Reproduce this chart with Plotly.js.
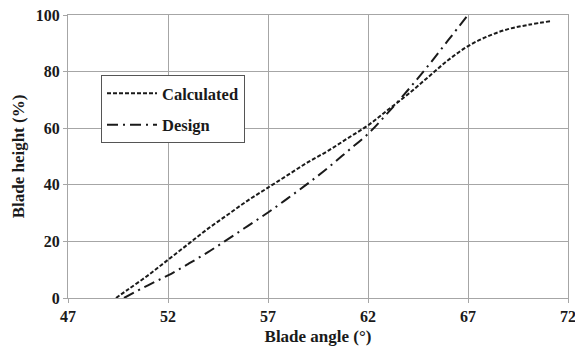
<!DOCTYPE html>
<html>
<head>
<meta charset="utf-8">
<script src="https://cdn.plot.ly/plotly-3.0.1.min.js"></script>
<style>html,body{margin:0;padding:0;background:#fff;}#chart{width:575px;height:351px;}</style>
</head>
<body>
<div id="chart"></div>
<script>
const calcAngle = [49.4, 50, 51, 52, 53, 54, 55, 56, 57, 58, 59, 60, 61, 62, 63, 64, 65, 66, 67, 68, 69, 70, 71.1];
const calcHeight = [0, 3, 8, 13.5, 19, 24.5, 29.5, 34.5, 39, 43.5, 48, 52, 56.5, 61, 66.5, 72, 78, 84, 89, 92.5, 95, 96.5, 97.8];
const designAngle = [49.8, 51, 52, 53, 54, 55, 56, 57, 58, 59, 60, 61, 62, 63, 64, 65, 66, 67];
const designHeight = [0, 4.5, 8, 12, 16.2, 20.8, 25.5, 30.2, 35.3, 40.5, 46, 52, 58, 65.5, 73.5, 82, 91, 100];
const xTicks = [47, 52, 57, 62, 67, 72];
const yTicks = [0, 20, 40, 60, 80, 100];

const font = 'Liberation Serif, Times New Roman, serif';
const traces = [
  {x: calcAngle, y: calcHeight, name: 'Calculated', legendgroup: 'a', mode: 'lines', line: {color: '#1a1a1a', width: 2, dash: '4px,2px', shape: 'spline'}},
  {x: designAngle, y: designHeight, name: 'Design', legendgroup: 'b', mode: 'lines', line: {color: '#1a1a1a', width: 2, dash: '11px,5px,2px,5px', shape: 'spline'}}
];
const layout = {
  width: 575, height: 351,
  margin: {l: 68, r: 7, t: 15, b: 53},
  paper_bgcolor: '#fff', plot_bgcolor: '#fff',
  font: {family: font, color: '#1a1a1a', size: 16, weight: 'bold'},
  showlegend: true,
  legend: {x: 0.066, y: 0.788, xanchor: 'left', yanchor: 'top', bgcolor: '#fff', bordercolor: '#555', borderwidth: 1,
           font: {family: font, size: 16.5, color: '#1a1a1a', weight: 'bold'}, traceorder: 'grouped', tracegroupgap: 7,
           itemwidth: 50},
  xaxis: {range: [47, 72], tickvals: xTicks, ticktext: xTicks.map(String), showgrid: true, gridcolor: '#a6a6a6', gridwidth: 1,
          zeroline: false, showline: true, linecolor: '#a6a6a6', mirror: true, ticks: 'outside', ticklen: 4, tickcolor: '#a6a6a6',
          ticklabeloverflow: 'allow',
          tickfont: {family: font, size: 16, weight: 'bold'},
          title: {text: 'Blade angle (°)', font: {family: font, size: 17, weight: 'bold'}, standoff: 5}},
  yaxis: {range: [0, 100], tickvals: yTicks, ticktext: yTicks.map(String), showgrid: true, gridcolor: '#a6a6a6', gridwidth: 1,
          zeroline: false, showline: true, linecolor: '#a6a6a6', mirror: true, ticks: 'outside', ticklen: 4, tickcolor: '#a6a6a6',
          ticklabeloverflow: 'allow',
          tickfont: {family: font, size: 16, weight: 'bold'},
          title: {text: 'Blade height (%)', font: {family: font, size: 17, weight: 'bold'}, standoff: 6}}
};
Plotly.newPlot('chart', traces, layout, {displayModeBar: false, staticPlot: true});
</script>
</body>
</html>
